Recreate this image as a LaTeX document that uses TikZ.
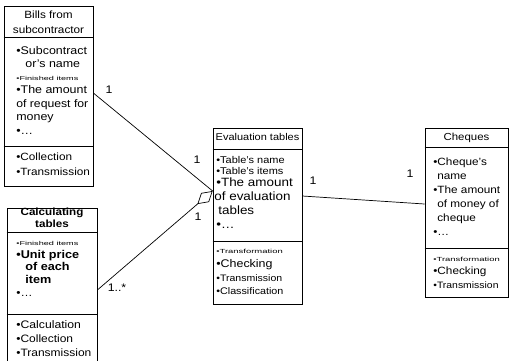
\documentclass[tikz,border=0pt]{standalone}
\usepackage{fontspec}
\setmainfont{Liberation Sans}[FakeStretch=1.12]
\newfontfamily\widefont[FakeStretch=1.6]{Liberation Sans}
\usetikzlibrary{arrows.meta}
\newcommand\fs[1]{\fontsize{#1}{#1}\selectfont}
\newcommand\sw[1]{\widefont\fontsize{#1}{#1}\selectfont}
\newcommand\bul{•}
\begin{document}
\begin{tikzpicture}[x=1pt, y=-1pt, line width=0.7pt]
  \tikzstyle{box}=[draw, inner sep=0pt]
  \tikzstyle{txt}=[anchor=mid west, inner sep=0pt]
  \tikzstyle{head}=[anchor=mid, inner sep=0pt]
  \tikzstyle{lbl}=[inner sep=0pt, font=\fs{11}]
  \useasboundingbox (0,0) rectangle (510,360);

  % classes
  \node[box, minimum width=89pt, minimum height=180pt] (bills) at (48.5,  96)   {};
  \node[box, minimum width=90pt, minimum height=164pt] (calc)  at (52,    290)  {};
  \node[box, minimum width=89pt, minimum height=176pt] (eval)  at (257.5, 216)  {};
  \node[box, minimum width=83pt, minimum height=169pt] (cheq)  at (466.5, 212.5){};

  \draw (bills.west |- 0,37)  -- (bills.east |- 0,37);
  \draw (bills.west |- 0,146) -- (bills.east |- 0,146);
  \draw (calc.west |- 0,232)  -- (calc.east |- 0,232);
  \draw (calc.west |- 0,314)  -- (calc.east |- 0,314);
  \draw (eval.west |- 0,149)  -- (eval.east |- 0,149);
  \draw (eval.west |- 0,241)  -- (eval.east |- 0,241);
  \draw (cheq.west |- 0,147)  -- (cheq.east |- 0,147);
  \draw (cheq.west |- 0,248)  -- (cheq.east |- 0,248);

  % headers
  \node[head] (bills-h1) at (48.5, 16)  {\fs{10.5}Bills from};
  \node[head] (bills-h2) at (48.5, 31)  {\fs{10.5}subcontractor};
  \node[head] (calc-h1)  at (52,   213) {\bfseries\fs{10.4}Calculating};
  \node[head] (calc-h2)  at (52,   225) {\bfseries\fs{10.4}tables};
  \node[head] (eval-h)   at (257.5,138) {\fs{9.8}Evaluation tables};
  \node[head] (cheq-h)   at (466.5,138) {\fs{10.2}Cheques};

  % compartments
  \foreach \x/\y/\words [count=\i] in {
      16/52/{\fs{11.1}\bul Subcontract}, 25/65/{\fs{11.1}or's name},
      16/78/{\sw{5.7}\bul Finished items}, 16/91/{\fs{11.1}\bul The amount},
      16/105/{\fs{10.9}of request for}, 16/118/{\fs{11.1}money},
      16/132/{\fs{11.1}\bul…}, 16/158/{\fs{10.5}\bul Collection},
      16/173/{\fs{10.5}\bul Transmission}}
    \node[txt] (bills-\i) at (\x,\y) {\words};

  \foreach \x/\y/\words [count=\i] in {
      16/243/{\sw{5.7}\bul Finished items}, 16/256/{\bfseries\fs{11.3}\bul Unit price},
      25/268/{\bfseries\fs{11.3}of each}, 25/281/{\bfseries\fs{11.3}item},
      16/294/{\fs{10.7}\bul…}, 16/326/{\fs{10.9}\bul Calculation},
      16/340/{\fs{10.7}\bul Collection}, 16/354/{\fs{10.7}\bul Transmission}}
    \node[txt] (calc-\i) at (\x,\y) {\words};

  \foreach \x/\y/\words [count=\i] in {
      216/161/{\fs{9.8}\bul Table's name}, 216/172/{\fs{9.8}\bul Table's items},
      216/184/{\fs{12}\bul The amount}, 214/198/{\fs{12}of evaluation},
      218/212/{\fs{12}tables}, 216/226/{\fs{12}\bul…},
      216/251/{\sw{5.9}\bul Transformation}, 216/265/{\fs{11.1}\bul Checking},
      216/279/{\fs{9.4}\bul Transmission}, 216/292/{\fs{9.6}\bul Classification}}
    \node[txt] (eval-\i) at (\x,\y) {\words};

  \foreach \x/\y/\words [count=\i] in {
      433/163/{\fs{10.5}\bul Cheque's}, 437/177/{\fs{10.5}name},
      433/191/{\fs{10.5}\bul The amount}, 437/205/{\fs{10.5}of money of},
      437/219/{\fs{10.5}cheque}, 433/233/{\fs{10.5}\bul…},
      433/259/{\sw{5.9}\bul Transformation}, 433/272/{\fs{10.5}\bul Checking},
      433/286/{\fs{9.3}\bul Transmission}}
    \node[txt] (cheq-\i) at (\x,\y) {\words};

  % associations
  \coordinate (aggtip)  at (eval.west |- 0,191);
  \coordinate (evalout) at (eval.east |- 0,196);
  \coordinate (cheqin)  at (cheq.west |- 0,204);
  \coordinate (billsout) at (bills.east |- 0,93);

  \draw (billsout) -- (aggtip);
  \draw[-{Diamond[open, length=20pt, width=12pt]}] (calc.east) -- (aggtip);
  \draw (evalout) -- (cheqin);

  \node[lbl] (m-bills) at (109, 90)  {1};
  \node[lbl] (m-agg1)  at (197, 160) {1};
  \node[lbl] (m-agg2)  at (198, 217) {1};
  \node[lbl] (m-calc)  at (117, 288) {1..*};
  \node[lbl] (m-eval)  at (313, 181) {1};
  \node[lbl] (m-cheq)  at (410, 174) {1};
\end{tikzpicture}
\end{document}
